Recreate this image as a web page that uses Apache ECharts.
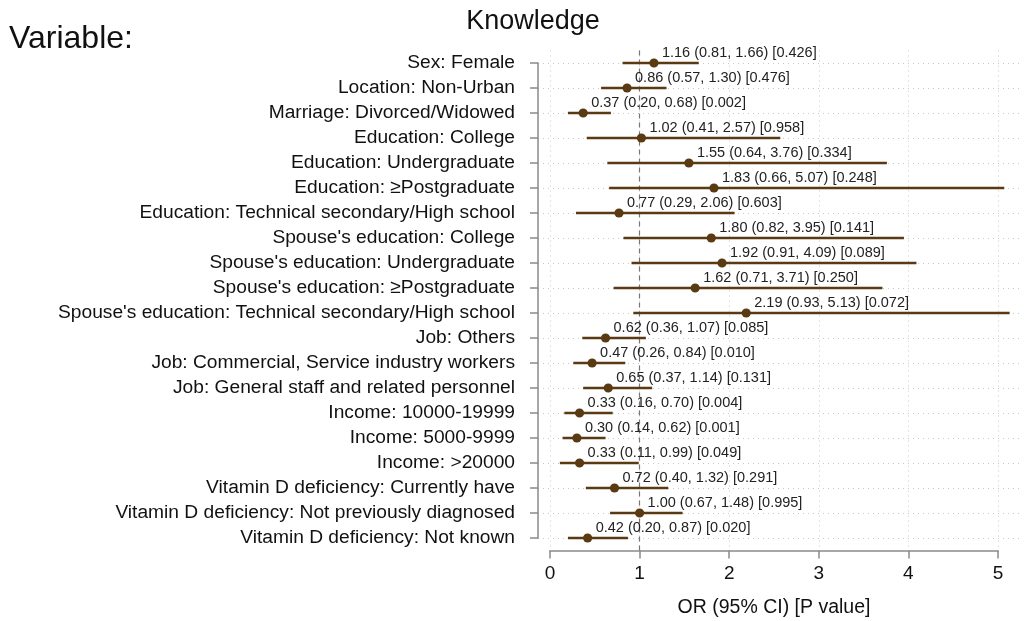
<!DOCTYPE html>
<html>
<head>
<meta charset="utf-8">
<title>Knowledge</title>
<script src="https://cdn.jsdelivr.net/npm/echarts@6/dist/echarts.min.js"></script>
<style>
  html, body { margin: 0; padding: 0; background: #fff; }
  #chart { width: 1026px; height: 621px; }
</style>
</head>
<body>
<div id="chart"></div>
<script>
// rows, top to bottom
const variables = [
    'Sex: Female',
    'Location: Non-Urban',
    'Marriage: Divorced/Widowed',
    'Education: College',
    'Education: Undergraduate',
    'Education: \u2265Postgraduate',
    'Education: Technical secondary/High school',
    "Spouse's education: College",
    "Spouse's education: Undergraduate",
    "Spouse's education: \u2265Postgraduate",
    "Spouse's education: Technical secondary/High school",
    'Job: Others',
    'Job: Commercial, Service industry workers',
    'Job: General staff and related personnel',
    'Income: 10000-19999',
    'Income: 5000-9999',
    'Income: >20000',
    'Vitamin D deficiency: Currently have',
    'Vitamin D deficiency: Not previously diagnosed',
    'Vitamin D deficiency: Not known'
];
const oddsRatio = [1.16, 0.86, 0.37, 1.02, 1.55, 1.83, 0.77, 1.80, 1.92, 1.62, 2.19, 0.62, 0.47, 0.65, 0.33, 0.30, 0.33, 0.72, 1.00, 0.42];
const ciLower   = [0.81, 0.57, 0.20, 0.41, 0.64, 0.66, 0.29, 0.82, 0.91, 0.71, 0.93, 0.36, 0.26, 0.37, 0.16, 0.14, 0.11, 0.40, 0.67, 0.20];
const ciUpper   = [1.66, 1.30, 0.68, 2.57, 3.76, 5.07, 2.06, 3.95, 4.09, 3.71, 5.13, 1.07, 0.84, 1.14, 0.70, 0.62, 0.99, 1.32, 1.48, 0.87];
const pValues   = ['0.426', '0.476', '0.002', '0.958', '0.334', '0.248', '0.603', '0.141', '0.089', '0.250', '0.072', '0.085', '0.010', '0.131', '0.004', '0.001', '0.049', '0.291', '0.995', '0.020'];
const xTicks = [0, 1, 2, 3, 4, 5];

const FONT = '"Liberation Sans", Arial, Helvetica, sans-serif';
const BROWN = '#5a3a12';

const seriesData = variables.map((v, i) => [i, ciLower[i], ciUpper[i], oddsRatio[i]]);

function renderItem(params, api) {
    const i = api.value(0);
    const lo = api.coord([api.value(1), i]);
    const hi = api.coord([api.value(2), i]);
    const pt = api.coord([api.value(3), i]);
    const txt = oddsRatio[i].toFixed(2) + ' (' + ciLower[i].toFixed(2) + ', ' +
        ciUpper[i].toFixed(2) + ') [' + pValues[i] + ']';
    return {
        type: 'group',
        children: [
            {
                type: 'line',
                shape: { x1: lo[0], y1: lo[1], x2: hi[0], y2: hi[1] },
                style: { stroke: BROWN, lineWidth: 2.4 }
            },
            {
                type: 'circle',
                shape: { cx: pt[0], cy: pt[1], r: 4.6 },
                style: { fill: BROWN }
            },
            {
                type: 'text',
                x: pt[0] + 8,
                y: pt[1] - 10,
                style: {
                    text: txt,
                    fill: '#222',
                    font: '14.5px ' + FONT,
                    textAlign: 'left',
                    textVerticalAlign: 'middle'
                }
            }
        ]
    };
}

const chart = echarts.init(document.getElementById('chart'));
const option = {
    backgroundColor: '#fff',
    animation: false,
    title: [
        {
            text: 'Knowledge',
            left: 528,
            textAlign: 'center',
            top: 3,
            textStyle: { fontFamily: FONT, fontSize: 27, fontWeight: 'normal', color: '#111' }
        },
        {
            text: 'Variable:',
            left: 4,
            top: 18,
            textStyle: { fontFamily: FONT, fontSize: 32, fontWeight: 'normal', color: '#111' }
        }
    ],
    grid: [
        { left: 550, width: 448, top: 50.5, height: 500, outerBoundsMode: 'none', containLabel: false },
        { left: 538, width: 482, top: 63, height: 475, outerBoundsMode: 'none', containLabel: false }
    ],
    xAxis: [
        {
            gridIndex: 0,
            type: 'value',
            min: xTicks[0],
            max: xTicks[xTicks.length - 1],
            interval: 1,
            name: 'OR (95% CI) [P value]',
            nameLocation: 'middle',
            nameGap: 47,
            nameTextStyle: { fontFamily: FONT, fontSize: 19.5, color: '#111' },
            axisLine: { show: true, lineStyle: { color: '#8a8a8a', width: 1.5 } },
            axisTick: { show: true, length: 8, lineStyle: { color: '#8a8a8a', width: 1.5 } },
            axisLabel: { fontFamily: FONT, fontSize: 19, color: '#111', margin: 14 },
            splitLine: { show: true, lineStyle: { color: '#c8c8c8', type: [1, 4], width: 1 } }
        },
        {
            gridIndex: 1,
            type: 'value',
            min: 0,
            max: 5,
            show: false
        }
    ],
    yAxis: [
        {
            gridIndex: 0,
            type: 'category',
            data: variables,
            inverse: true,
            boundaryGap: true,
            axisLine: { show: false },
            axisTick: { show: false },
            axisLabel: { show: false },
            splitLine: { show: false }
        },
        {
            gridIndex: 1,
            type: 'category',
            data: variables,
            inverse: true,
            boundaryGap: false,
            offset: 5,
            axisLine: { show: true, lineStyle: { color: '#8a8a8a', width: 1.5 } },
            axisTick: { show: true, length: 8, lineStyle: { color: '#8a8a8a', width: 1.5 } },
            axisLabel: { fontFamily: FONT, fontSize: 19.2, color: '#111', margin: 18, interval: 0 },
            splitLine: { show: true, interval: 0, lineStyle: { color: '#c8c8c8', type: [1, 4], width: 1 } }
        }
    ],
    series: [
        {
            type: 'custom',
            xAxisIndex: 0,
            yAxisIndex: 0,
            clip: false,
            renderItem: renderItem,
            encode: { x: [1, 2, 3], y: 0 },
            data: seriesData,
            markLine: {
                silent: true,
                symbol: 'none',
                label: { show: false },
                lineStyle: { color: '#777', type: [5, 4], width: 1.2 },
                data: [{ xAxis: 1 }]
            },
            z: 5
        }
    ]
};
chart.setOption(option);
</script>
</body>
</html>
